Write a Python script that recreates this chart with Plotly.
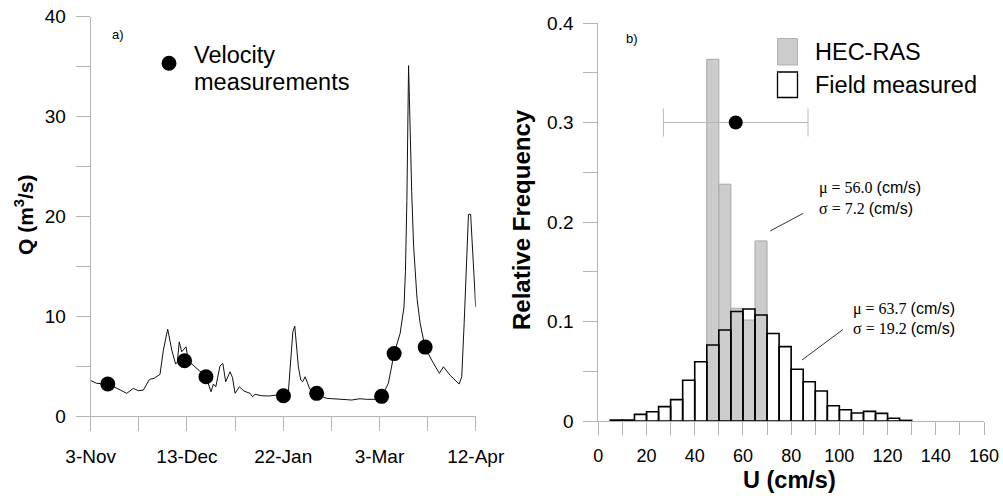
import pandas as pd
import plotly.graph_objects as go

# ---------------- data: panel a) hydrograph ----------------
start_date = "2004-11-03"
flow_day = [0, 1.5, 2.5, 4, 7, 9, 12, 15, 17.7, 19.8, 21.9, 24.4, 26.3, 28.8, 30.2, 32.0,
            33.7, 35.3, 36.0, 36.8, 37.8, 38.8, 39.6, 40.6, 42.5, 44.1, 46, 47.9, 50.0,
            51.0, 52.0, 53.7, 54.9, 56.1, 57.9, 58.9, 60.0, 61.8, 63.7, 66.2, 67.3, 68.3,
            71.1, 74, 77.3, 80.1, 82.1, 84.0, 84.8, 86.3, 87.3, 88.1, 89.1, 91.1, 93.9,
            96, 98.1, 103.6, 108.5, 111.9, 114.7, 118.9, 120.9, 123.7, 126.1, 128.6,
            130.2, 130.8, 131.4, 132.1, 132.7, 133.4, 134.2, 134.8, 135.6, 136.9, 138.9,
            141.7, 144.9, 146.6, 149.3, 153.1, 154.2, 155.2, 157.0, 157.9, 160.0]
flow_q = [3.55, 3.35, 3.27, 3.25, 3.2, 3.0, 2.6, 2.27, 2.77, 2.53, 2.6, 3.67, 3.77, 4.17, 6.6, 8.7,
          6.6, 5.2, 5.4, 7.43, 6.43, 6.77, 6.93, 5.53, 5.1, 4.83, 4.3, 3.93, 2.43,
          3.2, 2.93, 5.0, 5.27, 3.43, 4.43, 3.87, 2.27, 2.93, 2.5, 2.27, 1.93, 2.17,
          2.03, 2.0, 2.1, 2.03, 2.27, 8.43, 9.0, 4.93, 3.6, 3.43, 3.93, 2.67, 2.27,
          1.95, 1.77, 1.67, 1.6, 1.73, 1.67, 1.67, 1.93, 3.27, 6.27, 8.27,
          10.93, 14.5, 21.6, 35.1, 28.0, 22.5, 17.0, 14.3, 11.8, 9.3, 6.93,
          5.6, 4.27, 4.93, 4.1, 3.2, 3.93, 9.27, 20.2, 20.2, 10.93]

meas_day = [7.1, 39.0, 47.9, 80.1, 93.9, 120.9, 126.1, 139.0]
meas_q = [3.2, 5.53, 3.93, 2.03, 2.27, 1.97, 6.25, 6.9]

q_ticks = [0, 10, 20, 30, 40]
q_minor = [5, 15, 25, 35]
date_tick_step_days = 20
date_label_every = 2

# ---------------- data: panel b) histograms ----------------
bin_left = [5, 10, 15, 20, 25, 30, 35, 40, 45, 50, 55, 60, 65, 70, 75, 80, 85, 90, 95,
            100, 105, 110, 115, 120, 125]
bin_width = 5
field_freq = [0.001, 0.001, 0.0067, 0.0093, 0.0144, 0.0215, 0.041, 0.0596, 0.0764, 0.0915,
              0.110, 0.1126, 0.1065, 0.088, 0.0747, 0.052, 0.0395, 0.0302, 0.0153,
              0.0113, 0.008, 0.0097, 0.0077, 0.0027, 0.0006]
hec_left = [45, 50, 55, 60, 65]
hec_freq = [0.3635, 0.238, 0.1133, 0.1015, 0.181]

point_u = [57.0]
point_f = [0.30]
point_err = [30.0]

u_ticks = [0, 20, 40, 60, 80, 100, 120, 140, 160]
u_minor = [10, 30, 50, 70, 90, 110, 130, 150]
f_ticks = [0, 0.1, 0.2, 0.3, 0.4]
f_labels = ["0", "0.1", "0.2", "0.3", "0.4"]
f_minor = [0.05, 0.15, 0.25, 0.35]

# ---------------- figure ----------------
W, H = 1003, 502
SANS = "Liberation Sans, Arial, sans-serif"
SERIF = "Liberation Serif, Times New Roman, serif"
AXC = "#b4b4b4"


def px(x):
    return x / W


def py(y):
    return 1 - y / H


base = pd.Timestamp(start_date)
flow_dates = [base + pd.Timedelta(days=d) for d in flow_day]
meas_dates = [base + pd.Timedelta(days=d) for d in meas_day]
all_date_ticks = [base + pd.Timedelta(days=date_tick_step_days * i) for i in range(9)]
date_ticks = all_date_ticks[::date_label_every]
date_minor = all_date_ticks[1::date_label_every]
date_labels = [f"{t.day}-{t.strftime('%b')}" for t in date_ticks]

fig = go.Figure()

fig.add_trace(go.Scatter(x=flow_dates, y=flow_q, mode="lines",
                         line=dict(color="#111111", width=1), xaxis="x", yaxis="y",
                         showlegend=False, name="Q"))
fig.add_trace(go.Scatter(x=meas_dates, y=meas_q, mode="markers",
                         marker=dict(color="black", size=15), xaxis="x", yaxis="y",
                         showlegend=False, name="Velocity measurements"))

hec_x = [b + bin_width / 2 for b in hec_left]
field_x = [b + bin_width / 2 for b in bin_left]
fig.add_trace(go.Bar(x=hec_x, y=hec_freq, width=bin_width, xaxis="x2", yaxis="y2",
                     marker=dict(color="#cccccc", line=dict(color="#a8a8a8", width=1)),
                     showlegend=False, name="HEC-RAS"))
fig.add_trace(go.Bar(x=field_x, y=field_freq, width=bin_width, xaxis="x2", yaxis="y2",
                     marker=dict(color="rgba(0,0,0,0)", line=dict(color="black", width=1.6)),
                     showlegend=False, name="Field measured"))
fig.add_trace(go.Scatter(x=point_u, y=point_f, mode="markers", xaxis="x2", yaxis="y2",
                         marker=dict(color="black", size=14),
                         error_x=dict(type="data", array=point_err, color="#b8b8b8",
                                      thickness=1, width=14),
                         showlegend=False, name="mean"))


def axis_common(size, ticklen, minor_vals):
    return dict(ticks="outside", ticklen=ticklen, tickcolor=AXC, showline=True,
                linecolor=AXC, linewidth=1, showgrid=False, zeroline=False,
                tickfont=dict(family=SANS, size=size, color="black"), automargin=False,
                tickmode="array",
                minor=dict(tickmode="array", tickvals=minor_vals, ticks="outside",
                           ticklen=ticklen, tickcolor=AXC, showgrid=False))


fig.update_layout(
    width=W, height=H,
    margin=dict(l=0, r=0, t=0, b=0, pad=0, autoexpand=False),
    paper_bgcolor="white", plot_bgcolor="white",
    barmode="overlay",
    xaxis=dict(domain=[px(90.7), px(475.7)], range=[all_date_ticks[0], all_date_ticks[-1]],
               tickvals=date_ticks, ticktext=date_labels,
               ticklabelstandoff=9, anchor="y", **axis_common(19, 14, date_minor)),
    yaxis=dict(domain=[py(416), py(16.7)], range=[0, 40],
               tickvals=q_ticks, ticktext=[str(v) for v in q_ticks],
               ticklabelstandoff=6, anchor="x", **axis_common(19, 14, q_minor)),
    xaxis2=dict(domain=[px(598.3), px(984.0)], range=[0, 160],
                tickvals=u_ticks, ticktext=[str(v) for v in u_ticks],
                ticklabelstandoff=5, anchor="y2", **axis_common(18, 13, u_minor)),
    yaxis2=dict(domain=[py(421), py(23)], range=[0, 0.4],
                tickvals=f_ticks, ticktext=f_labels,
                ticklabelstandoff=6, anchor="x2", **axis_common(19, 14, f_minor)),
)

ann = []


def text(x, y, s, size, xanchor="left", angle=0, family=SANS):
    ann.append(dict(x=px(x), y=py(y), xref="paper", yref="paper", text=s, showarrow=False,
                    xanchor=xanchor, yanchor="middle", textangle=angle,
                    font=dict(family=family, size=size, color="black")))


# axis titles
text(24, 215, "<b>Q (m<sup>3</sup>/s)</b>", 21, xanchor="center", angle=-90)
text(521, 220, "<b>Relative Frequency</b>", 24, xanchor="center", angle=-90)
text(789, 480, "<b>U (cm/s)</b>", 23.5, xanchor="center")
# panel labels
text(118, 35, "a)", 13, xanchor="center")
text(632, 38, "b)", 13, xanchor="center")
# legends
text(191.5, 55, "Velocity", 23.5)
text(191.5, 82, "measurements", 23.5)
text(813, 51.5, "HEC-RAS", 23.5)
text(813, 85, "Field measured", 23.5)
# statistics
text(816.5, 188, f'<span style="font-family:{SERIF}">\u03bc = 56.0 </span>(cm/s)', 16)
text(816.5, 208, f'<span style="font-family:{SERIF}">\u03c3 = 7.2 </span>(cm/s)', 16)
text(850.5, 308.5, f'<span style="font-family:{SERIF}">\u03bc = 63.7 </span>(cm/s)', 16)
text(850.5, 328.5, f'<span style="font-family:{SERIF}">\u03c3 = 19.2 </span>(cm/s)', 16)
fig.update_layout(annotations=ann)

shapes = [
    # legend dot (panel a)
    dict(type="circle", xref="paper", yref="paper", xsizemode="pixel", ysizemode="pixel",
         xanchor=px(169), yanchor=py(63.3), x0=-7.5, x1=7.5, y0=-7.5, y1=7.5,
         fillcolor="black", line=dict(width=0)),
    # legend boxes (panel b)
    dict(type="rect", xref="paper", yref="paper", x0=px(777.5), x1=px(797.5),
         y0=py(65), y1=py(38.5), fillcolor="#cccccc", line=dict(color="#b0b0b0", width=1)),
    dict(type="rect", xref="paper", yref="paper", x0=px(777.5), x1=px(797.5),
         y0=py(97.5), y1=py(72), fillcolor="white", line=dict(color="black", width=1.3)),
    # leader lines
    dict(type="line", xref="x2", yref="y2", x0=71.3, y0=0.191, x1=85.0, y1=0.2087,
         line=dict(color="#333333", width=1)),
    dict(type="line", xref="x2", yref="y2", x0=84.5, y0=0.0613, x1=101.5, y1=0.092,
         line=dict(color="#333333", width=1)),
]
fig.update_layout(shapes=shapes)

fig.write_html("out.html")
